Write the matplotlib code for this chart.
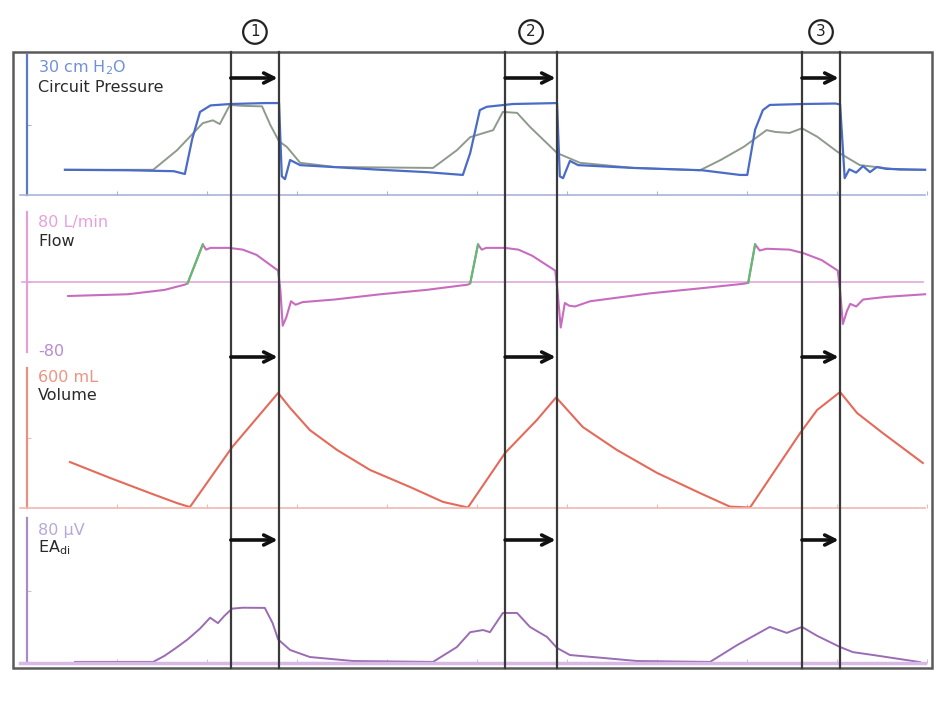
import matplotlib
matplotlib.use('Agg')
import matplotlib.pyplot as plt
from matplotlib.transforms import blended_transform_factory
import numpy as np

# time axis in seconds (frame spans 0..20 s)
press_t = [1.13, 2.5, 3.5, 3.74, 3.9, 4.07, 4.3, 4.74, 5.5, 5.79, 5.85, 5.92, 6.03, 6.25, 7.3, 8.0, 9.0,
           9.79, 9.95, 10.16, 10.31, 10.88, 11.84, 11.9, 11.97, 12.12, 12.3, 13.5, 15.0, 15.82, 15.98,
           16.15, 16.32, 16.47, 17.2, 17.9, 18.0, 18.1, 18.2, 18.35, 18.5, 18.65, 18.8, 19.0, 19.85]
press_v = [5.4, 5.3, 5.1, 4.5, 12.0, 17.8, 19.2, 19.5, 19.7, 19.7, 4.0, 3.4, 7.5, 6.4, 5.8, 5.4, 4.9,
           4.3, 9.0, 18.2, 18.9, 19.5, 19.7, 4.0, 3.6, 7.3, 6.4, 5.8, 5.3, 4.3, 4.3,
           14.0, 18.2, 19.3, 19.5, 19.6, 19.4, 3.6, 5.5, 4.8, 6.2, 4.9, 6.0, 5.6, 5.4]

gray_t = [1.13, 3.05, 3.57, 4.13, 4.35, 4.5, 4.72, 5.0, 5.42, 5.6, 5.79, 5.96, 6.25, 7.0, 9.14,
          9.66, 9.95, 10.45, 10.66, 10.97, 11.25, 11.84, 12.34, 13.5, 14.95, 15.4, 15.9,
          16.4, 16.6, 16.9, 17.17, 17.5, 17.95, 18.43, 19.3, 19.85]
gray_v = [5.4, 5.4, 9.6, 15.4, 16.0, 15.2, 19.3, 19.1, 19.0, 15.0, 11.5, 10.3, 6.9, 6.0, 5.8,
          9.6, 12.4, 13.9, 17.8, 17.6, 14.6, 9.0, 6.9, 5.8, 5.3, 7.5, 10.3,
          13.9, 13.5, 13.3, 14.3, 12.5, 9.2, 6.4, 5.4, 5.4]

flow_t = [1.2, 2.5, 3.3, 3.74, 3.8, 4.13, 4.2, 4.3, 4.7, 5.0, 5.3, 5.77, 5.82, 5.87, 5.95, 6.05, 6.15, 6.3,
          7.0, 8.0, 9.0, 9.9, 9.95, 10.12, 10.2, 10.3, 10.7, 11.0, 11.3, 11.8, 11.85, 11.92, 12.01, 12.1,
          12.23, 12.56, 13.86, 15.0, 15.9, 16.0, 16.15, 16.25, 16.4, 16.9, 17.2, 17.6, 17.95, 18.0, 18.06,
          18.15, 18.22, 18.35, 18.5, 19.0, 19.85]
flow_v = [-16, -14, -9, -3, -1.5, 43, 37, 39, 39, 37, 31, 13, -10, -50, -40, -22, -26, -23,
          -20, -14, -9, -3, -1.5, 43, 37, 39, 39, 37, 30, 13, -10, -52, -24, -27,
          -28, -22, -13, -7, -2, -1, 43, 36, 38, 37, 33, 25, 13, -10, -48,
          -33, -25, -28, -20, -17, -14]
# inspiratory trigger segments (green)
trig_t = [(3.8, 4.13), (9.95, 10.12), (16.0, 16.15)]

vol_t = [1.24, 2.11, 2.98, 3.57, 3.85, 4.77, 5.77, 6.03, 6.46, 7.05, 7.77, 8.64, 9.36, 9.9,
         10.71, 11.4, 11.82, 12.4, 13.14, 14.02, 14.95, 15.6, 16.04, 17.13, 17.5, 18.0,
         18.37, 18.93, 19.8]
vol_v = [197, 129, 64, 21, 4, 261, 493, 429, 334, 249, 163, 90, 26, 2,
         236, 377, 474, 347, 249, 150, 64, 6, 2, 321, 420, 497,
         407, 321, 193]

ea_t = [1.35, 3.05, 3.3, 3.53, 3.8, 4.07, 4.29, 4.46, 4.6, 4.77, 5.0, 5.48, 5.65, 5.77, 6.03, 6.46, 7.4,
        9.14, 9.66, 9.95, 10.23, 10.38, 10.66, 10.97, 11.25, 11.62, 11.84, 12.12, 12.84, 13.58, 15.17,
        15.76, 16.47, 16.84, 17.17, 17.5, 18.0, 18.28, 18.72, 19.74]
ea_v = [0.6, 0.6, 4, 8, 13, 19, 25, 22, 26, 30, 30.5, 30.4, 22, 13, 7.2, 3.3, 1.1,
        0.6, 8.8, 17, 18.2, 17, 27.6, 27.6, 19.9, 14.4, 8.3, 4.4, 2.8, 1.1, 0.6,
        9.9, 19.9, 16.6, 19.9, 15, 8.8, 6, 4.4, 0.5]

events = [4.74, 5.79, 10.71, 11.84, 17.17, 18.0]

W, H = 950, 702
fig = plt.figure(figsize=(W / 100, H / 100), dpi=100)
fig.patch.set_facecolor('white')


def px_axes(top, bottom):
    ax = fig.add_axes([13 / W, 1 - bottom / H, 919 / W, (bottom - top) / H])
    ax.set_xlim(0, 20)
    ax.patch.set_alpha(0)
    for s in ['top', 'right']:
        ax.spines[s].set_visible(False)
    ax.spines['left'].set_position(('data', 0.305))
    ax.spines['bottom'].set_bounds(0.15, 19.85)
    ax.set_xticks(np.arange(2.26, 20, 1.96))
    ax.tick_params(direction='in', length=3, labelleft=False, labelbottom=False, width=0.8)
    return ax


def style(ax, color, base_color=None):
    ax.spines['left'].set_color(color)
    ax.spines['left'].set_linewidth(1.6)
    ax.spines['bottom'].set_color(base_color or color)
    ax.spines['bottom'].set_linewidth(1.2)
    ax.tick_params(colors=base_color or color)


C_P, C_G, C_F, C_T, C_V, C_E = '#4a6cc6', '#8e9a8c', '#c86cc0', '#5cbf6a', '#e46a5a', '#9a6cb4'

ax_p = px_axes(55, 195)
ax_p.set_ylim(0, 30)
style(ax_p, '#5a78cc', '#a8b4d8')
ax_p.set_yticks([15])
ax_p.plot(gray_t, gray_v, color=C_G, lw=1.4)
ax_p.plot(press_t, press_v, color=C_P, lw=1.6)

ax_f = px_axes(212, 352)
ax_f.set_ylim(-80, 80)
style(ax_f, '#e0a0d8')
ax_f.spines['bottom'].set_visible(False)
ax_f.tick_params(axis='x', length=0)
ax_f.set_yticks([0])
ax_f.axhline(0, color='#e0a8d8', lw=1.2, xmin=0.01, xmax=0.99)
ax_f.plot(flow_t, flow_v, color=C_F, lw=1.5)
ft, fv = np.array(flow_t), np.array(flow_v)
for a, b in trig_t:
    m = (ft >= a) & (ft <= b)
    ax_f.plot(ft[m], fv[m], color=C_T, lw=1.5)

ax_v = px_axes(368, 508)
ax_v.set_ylim(0, 600)
style(ax_v, '#e89084', '#f0b8b0')
ax_v.set_yticks([300])
ax_v.plot(vol_t, vol_v, color=C_V, lw=1.5)

ax_e = px_axes(518, 663)
ax_e.set_ylim(0, 80)
style(ax_e, '#a88cc4', '#d8b8e4')
ax_e.spines['bottom'].set_linewidth(2.5)
ax_e.set_yticks([40])
ax_e.plot(ea_t, ea_v, color=C_E, lw=1.4)

# overlay in pixel coordinates
ov = fig.add_axes([0, 0, 1, 1])
ov.set_xlim(0, W)
ov.set_ylim(H, 0)
ov.axis('off')
ov.patch.set_alpha(0)
ov.add_patch(plt.Rectangle((13, 52), 919, 616, fill=False, ec='#5a5a5a', lw=1.8))

tr = blended_transform_factory(ax_p.transData, ov.transData)
for t in events:
    ov.plot([t, t], [52, 668], color='#3a3a3a', lw=1.6, transform=tr)

# arrows between each event pair
for i in range(0, len(events), 2):
    t0, t1 = events[i], events[i + 1]
    for y in [78, 357, 540]:
        ov.annotate('', xy=(t1, y), xytext=(t0, y), xycoords=tr, textcoords=tr,
                    arrowprops=dict(arrowstyle='->', lw=2.6, color='#111111', mutation_scale=18,
                                    shrinkA=0, shrinkB=1))
    ov.text((t0 + t1) / 2, 32, str(i // 2 + 1), transform=tr, ha='center', va='center',
            fontsize=11, color='#222222',
            bbox=dict(boxstyle='circle,pad=0.28', fc='white', ec='#222222', lw=1.6))

labels = [
    (68, '30 cm H$_2$O', '#7090d8'),
    (87, 'Circuit Pressure', '#2a2a2a'),
    (222, '80 L/min', '#e8a0dc'),
    (241, 'Flow', '#2a2a2a'),
    (352, '-80', '#b88ad4'),
    (377, '600 mL', '#ec9484'),
    (396, 'Volume', '#2a2a2a'),
    (530, '80 µV', '#b8a8d8'),
    (548, 'EA$_{\\mathrm{di}}$', '#2a2a2a'),
]
for y, s, c in labels:
    ov.text(38, y, s, ha='left', va='center', fontsize=11.5, color=c, family='DejaVu Sans')

fig.savefig('out.png', dpi=100, facecolor='white')
